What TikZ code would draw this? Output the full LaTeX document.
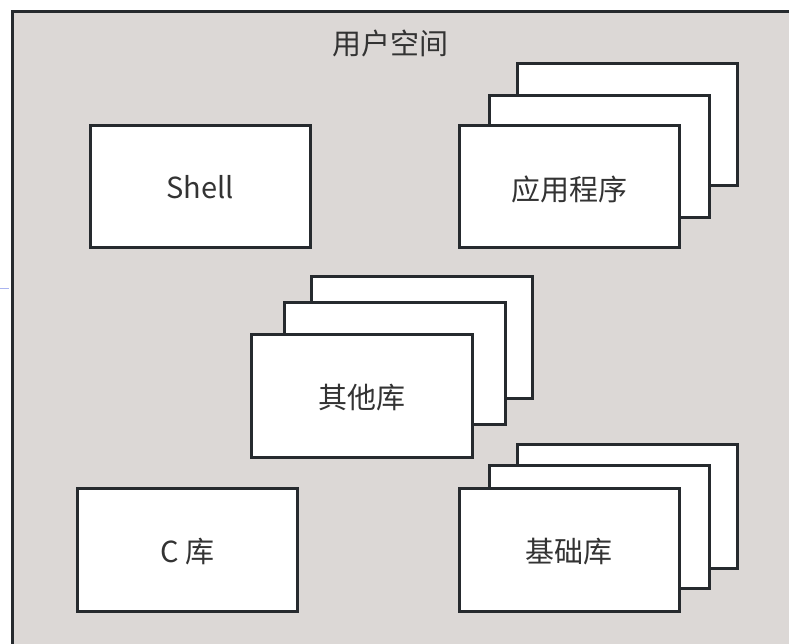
\documentclass[tikz,border=0pt]{standalone}
\usepackage{fontspec}
\setmainfont{Noto Sans CJK SC}
\definecolor{bgfill}{RGB}{220,216,214}
\definecolor{edge}{RGB}{38,42,46}
\definecolor{txt}{RGB}{51,51,51}
\definecolor{faintblue}{RGB}{170,180,240}
\tikzset{
  card/.style={draw=edge, line width=3pt, fill=white, inner sep=0pt, anchor=north west},
  lbl/.style={text=txt, font=\fontsize{29}{33}\selectfont, inner sep=0pt}
}
\begin{document}
\begin{tikzpicture}[x=1pt,y=-1pt]
\useasboundingbox (0,0) rectangle (789,644);
\clip (0,0) rectangle (789,644);
\draw[faintblue, line width=1pt] (0,288.5) -- (9,288.5);
\node[draw=edge, line width=3pt, fill=bgfill, minimum width=800pt, minimum height=660pt, anchor=north west, inner sep=0pt] (space) at (10.5,10.5) {};
\node[lbl] (title) at (390,43) {用户空间};
% Shell
\node[card, minimum width=220pt, minimum height=122pt] (shell) at (88.5,124.5) {};
\node[lbl] (shelltxt) at (shell.center) {Shell};
% app stack
\node[card, minimum width=220pt, minimum height=122pt] (app3) at (515.5,62.5) {};
\node[card, minimum width=220pt, minimum height=122pt] (app2) at (487.5,94.5) {};
\node[card, minimum width=220pt, minimum height=122pt] (app1) at (457.5,124.5) {};
\node[lbl] (apptxt) at ([yshift=-2pt]app1.center) {应用程序};
% other libs
\node[card, minimum width=221pt, minimum height=122pt] (oth3) at (309.5,274.5) {};
\node[card, minimum width=221pt, minimum height=122pt] (oth2) at (282.5,300.5) {};
\node[card, minimum width=221pt, minimum height=123pt] (oth1) at (249.5,332.5) {};
\node[lbl] (othtxt) at ([yshift=-2pt]oth1.center) {其他库};
% C lib
\node[card, minimum width=220pt, minimum height=123pt] (clib) at (75.5,486.5) {};
\node[lbl] (clibtxt) at ([yshift=-2pt]clib.center) {C 库};
% base libs
\node[card, minimum width=220pt, minimum height=124pt] (base3) at (515.5,442.5) {};
\node[card, minimum width=220pt, minimum height=123pt] (base2) at (487.5,463.5) {};
\node[card, minimum width=220pt, minimum height=123pt] (base1) at (457.5,486.5) {};
\node[lbl] (basetxt) at ([yshift=-2pt]base1.center) {基础库};
\end{tikzpicture}
\end{document}
